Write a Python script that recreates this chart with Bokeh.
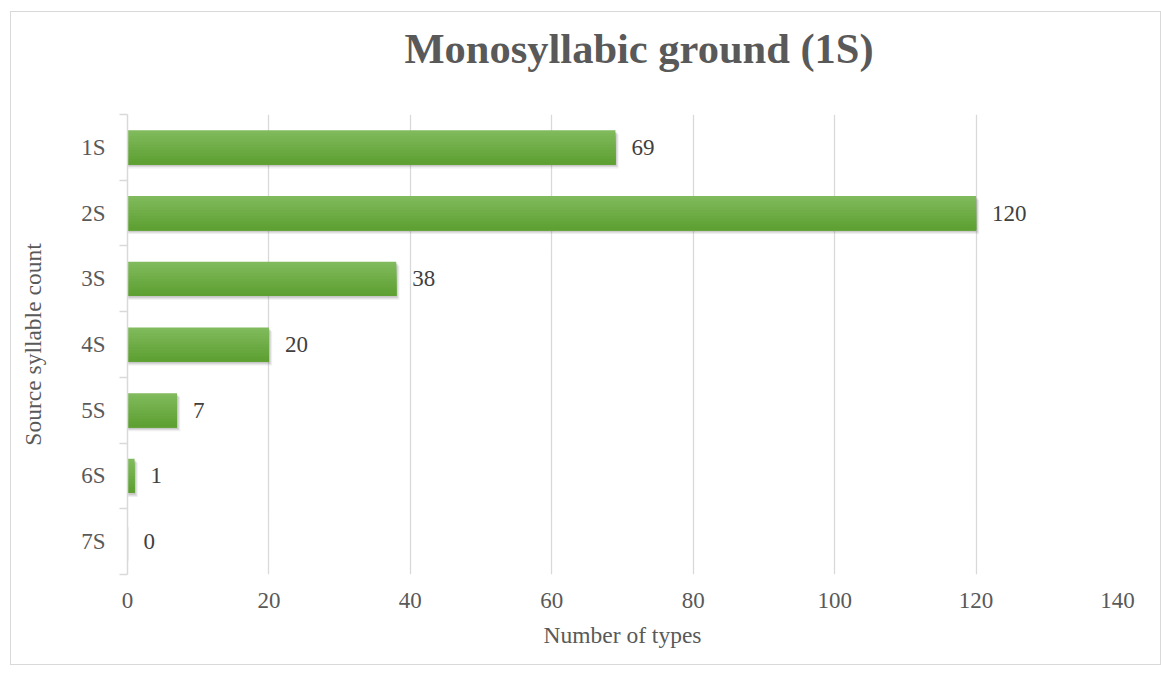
from bokeh.plotting import figure
from bokeh.models import FixedTicker, Range1d, ColumnDataSource, Title
from bokeh.embed import file_html
from bokeh.resources import INLINE
from bokeh.core.properties import value

categories = ["1S", "2S", "3S", "4S", "5S", "6S", "7S"]
counts = [69, 120, 38, 20, 7, 1, 0]
x_ticks = [0, 20, 40, 60, 80, 100, 120, 140]
title_text = "Monosyllabic ground (1S)"
x_title = "Number of types"
y_title = "Source syllable count"

n = len(categories)
ypos = [n - i - 0.5 for i in range(n)]

FONT = "Liberation Serif"
GREY = "#595959"
FS = "23px"

p = figure(width=1151, height=654, output_backend="svg", toolbar_location=None,
           x_range=Range1d(0, 140), y_range=Range1d(0, n),
           min_border_left=116, min_border_right=45, min_border_top=102, min_border_bottom=92)
p.margin = (11, 0, 0, 10)
p.styles = {"border": "1px solid #d9d9d9"}
p.outline_line_color = None
p.background_fill_color = "white"
p.border_fill_color = "white"

# spacer between the title and the plot frame
p.add_layout(Title(text=" ", text_font_size="1px", standoff=28), "above")

p.title.text = title_text
p.title.text_font = FONT
p.title.text_font_size = "42.5px"
p.title.text_font_style = "bold"
p.title.text_color = GREY
p.title.align = "left"
p.title.offset = 277
p.title.vertical_align = "top"
p.title.standoff = 20

# grid
p.ygrid.grid_line_color = None
p.xgrid.ticker = FixedTicker(ticks=x_ticks)
p.xgrid.grid_line_color = "#d9d9d9"
p.xgrid.grid_line_width = 1.3

# x axis
p.xaxis.ticker = FixedTicker(ticks=x_ticks)
p.xaxis.axis_line_color = None
p.xaxis.major_tick_line_color = None
p.xaxis.minor_tick_line_color = None
p.xaxis.major_tick_out = 0
p.xaxis.major_label_standoff = 18
p.xaxis.major_label_text_font = FONT
p.xaxis.major_label_text_font_size = FS
p.xaxis.major_label_text_color = GREY
p.xaxis.axis_label = x_title
p.xaxis.axis_label_text_font = FONT
p.xaxis.axis_label_text_font_size = "23.5px"
p.xaxis.axis_label_text_font_style = "normal"
p.xaxis.axis_label_text_color = GREY
p.xaxis.axis_label_standoff = 11

# y axis
p.yaxis.ticker = FixedTicker(ticks=ypos, minor_ticks=list(range(n + 1)))
p.yaxis.major_label_overrides = {y: c for y, c in zip(ypos, categories)}
p.yaxis.axis_line_color = "#d9d9d9"
p.yaxis.axis_line_width = 1.5
p.yaxis.major_tick_line_color = None
p.yaxis.major_tick_out = 0
p.yaxis.major_tick_in = 0
p.yaxis.minor_tick_line_color = "#d9d9d9"
p.yaxis.minor_tick_line_width = 1.5
p.yaxis.minor_tick_out = 8
p.yaxis.minor_tick_in = 0
p.yaxis.major_label_standoff = 14
p.yaxis.major_label_text_font = FONT
p.yaxis.major_label_text_font_size = FS
p.yaxis.major_label_text_color = GREY
p.yaxis.axis_label = y_title
p.yaxis.axis_label_text_font = FONT
p.yaxis.axis_label_text_font_size = "23.5px"
p.yaxis.axis_label_text_font_style = "normal"
p.yaxis.axis_label_text_color = GREY
p.yaxis.axis_label_standoff = 32

bar_h = 0.52
src = ColumnDataSource(dict(y=ypos, x=counts, lbl=[str(c) for c in counts]))

# soft shadow
for i, (dy, a) in enumerate([(0.06, 0.12), (0.04, 0.18), (0.025, 0.22)]):
    p.hbar(y=[y - dy for y in ypos], right=[c + 0.3 * (3 - i) * 0.5 if c > 0 else 0 for c in counts],
           left=0.1, height=bar_h, fill_color="#7f7f7f", fill_alpha=a, line_color=None)

# gradient bars: nested layers from top (light) to bottom (darker)
top = (128, 186, 92)
bot = (94, 160, 50)
steps = 12
for k in range(steps):
    t = k / (steps - 1)
    col = "#%02x%02x%02x" % tuple(int(round(a + (b - a) * t)) for a, b in zip(top, bot))
    frac = 1 - k / steps
    hh = bar_h * frac
    p.hbar(y=[y - bar_h / 2 + hh / 2 for y in ypos], right=counts, left=0, height=hh,
           fill_color=col, line_color=None)

# data labels
p.text(x="x", y="y", text="lbl", source=src, x_offset=16,
       text_font=value(FONT), text_font_size=FS, text_color="#404040",
       text_baseline="middle", text_align="left")

open("out.html", "w").write(file_html(p, INLINE))
